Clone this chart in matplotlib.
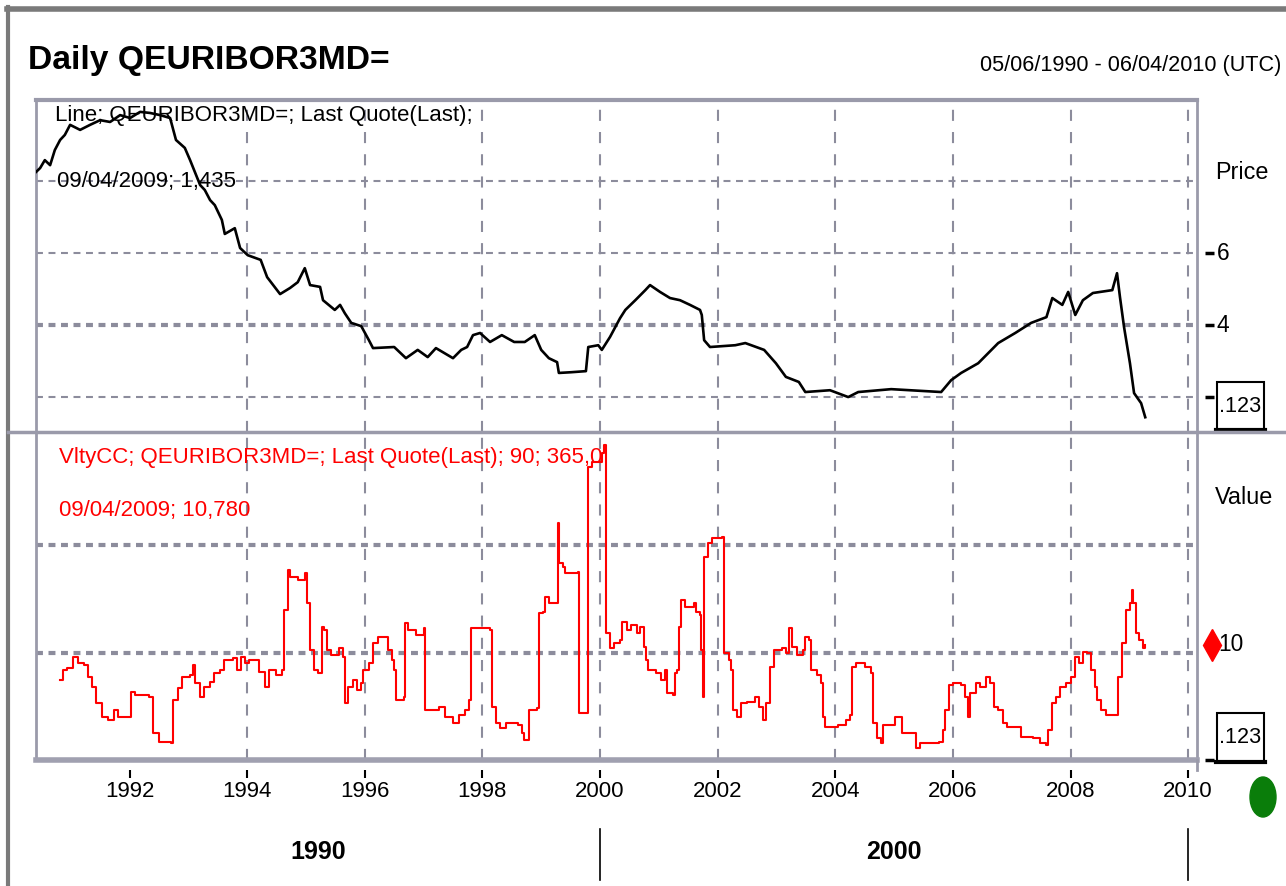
import matplotlib
matplotlib.use('Agg')
import matplotlib.pyplot as plt
from matplotlib import font_manager
from matplotlib.patches import Rectangle, Ellipse
from matplotlib.lines import Line2D

# --- datos ---
price_years = [1990.41, 1990.48, 1990.56, 1990.65, 1990.73, 1990.82, 1990.90, 1990.99, 1991.16, 1991.33,
               1991.50, 1991.67, 1991.84, 1992.01, 1992.18, 1992.35, 1992.52, 1992.69, 1992.79, 1992.94,
               1993.03, 1993.20, 1993.28, 1993.37, 1993.45, 1993.57, 1993.62, 1993.79, 1993.88, 1994.01,
               1994.23, 1994.34, 1994.56, 1994.73, 1994.86, 1994.98, 1995.07, 1995.24, 1995.29, 1995.49,
               1995.58, 1995.66, 1995.77, 1995.94, 1996.07, 1996.14, 1996.50, 1996.70, 1996.90, 1997.07,
               1997.21, 1997.50, 1997.64, 1997.74, 1997.84, 1997.96, 1998.13, 1998.33, 1998.54, 1998.72,
               1998.89, 1999.00, 1999.13, 1999.27, 1999.30, 1999.51, 1999.76, 1999.80, 1999.97, 2000.03,
               2000.17, 2000.34, 2000.43, 2000.60, 2000.77, 2000.85, 2001.02, 2001.19, 2001.36, 2001.53,
               2001.70, 2001.73, 2001.77, 2001.87, 2002.30, 2002.47, 2002.79, 2002.99, 2003.16, 2003.38,
               2003.49, 2003.91, 2004.22, 2004.39, 2004.95, 2005.80, 2005.97, 2006.14, 2006.43, 2006.77,
               2007.06, 2007.33, 2007.59, 2007.69, 2007.86, 2007.96, 2008.08, 2008.21, 2008.38, 2008.71,
               2008.79, 2008.84, 2008.91, 2009.01, 2009.08, 2009.20, 2009.27]
price_values = [8.25, 8.36, 8.58, 8.44, 8.86, 9.14, 9.28, 9.56, 9.42, 9.56,
                9.69, 9.64, 9.83, 9.75, 9.92, 9.89, 9.83, 9.75, 9.14, 8.92,
                8.58, 7.89, 7.75, 7.47, 7.33, 6.92, 6.53, 6.69, 6.14, 5.94,
                5.81, 5.33, 4.86, 5.03, 5.19, 5.58, 5.11, 5.06, 4.69, 4.42,
                4.56, 4.33, 4.06, 3.97, 3.58, 3.36, 3.39, 3.08, 3.31, 3.11,
                3.36, 3.08, 3.31, 3.39, 3.72, 3.78, 3.53, 3.72, 3.53, 3.53,
                3.72, 3.31, 3.08, 2.97, 2.67, 2.69, 2.72, 3.39, 3.44, 3.31,
                3.67, 4.19, 4.42, 4.69, 4.97, 5.11, 4.92, 4.75, 4.69, 4.56,
                4.42, 4.28, 3.58, 3.39, 3.44, 3.50, 3.31, 2.94, 2.56, 2.42,
                2.14, 2.19, 2.00, 2.14, 2.22, 2.14, 2.47, 2.67, 2.94, 3.50,
                3.78, 4.06, 4.22, 4.75, 4.56, 4.92, 4.28, 4.69, 4.89, 4.97,
                5.44, 4.78, 3.94, 2.94, 2.11, 1.83, 1.44]

vol_years = [1990.82, 1990.87, 1990.94, 1991.04, 1991.12, 1991.22, 1991.29, 1991.36, 1991.43, 1991.53,
             1991.63, 1991.73, 1991.80, 1991.99, 1992.02, 1992.09, 1992.33, 1992.40, 1992.50, 1992.70,
             1992.74, 1992.82, 1992.89, 1993.03, 1993.08, 1993.11, 1993.20, 1993.27, 1993.37, 1993.44,
             1993.54, 1993.61, 1993.76, 1993.83, 1993.89, 1993.96, 1994.03, 1994.17, 1994.20, 1994.30,
             1994.37, 1994.49, 1994.59, 1994.63, 1994.69, 1994.73, 1994.86, 1994.98, 1995.02, 1995.07,
             1995.14, 1995.20, 1995.27, 1995.31, 1995.36, 1995.43, 1995.53, 1995.56, 1995.63, 1995.66,
             1995.71, 1995.80, 1995.87, 1995.94, 1995.97, 1996.07, 1996.14, 1996.22, 1996.33, 1996.39,
             1996.46, 1996.50, 1996.53, 1996.67, 1996.68, 1996.73, 1996.87, 1997.01, 1997.02, 1997.26,
             1997.36, 1997.50, 1997.60, 1997.70, 1997.77, 1997.81, 1997.99, 1998.13, 1998.16, 1998.23,
             1998.30, 1998.40, 1998.61, 1998.67, 1998.71, 1998.79, 1998.93, 1998.96, 1999.03, 1999.06,
             1999.13, 1999.27, 1999.29, 1999.30, 1999.37, 1999.40, 1999.63, 1999.64, 1999.76, 1999.80,
             1999.86, 2000.03, 2000.07, 2000.10, 2000.17, 2000.24, 2000.34, 2000.37, 2000.46, 2000.53,
             2000.63, 2000.68, 2000.75, 2000.78, 2000.82, 2000.95, 2001.04, 2001.11, 2001.14, 2001.24,
             2001.28, 2001.31, 2001.34, 2001.38, 2001.45, 2001.60, 2001.63, 2001.70, 2001.72, 2001.75,
             2001.77, 2001.84, 2001.90, 2002.07, 2002.11, 2002.19, 2002.23, 2002.26, 2002.33, 2002.40,
             2002.50, 2002.64, 2002.70, 2002.77, 2002.82, 2002.89, 2002.96, 2003.10, 2003.16, 2003.21,
             2003.27, 2003.35, 2003.45, 2003.49, 2003.55, 2003.59, 2003.69, 2003.76, 2003.79, 2003.83,
             2004.05, 2004.18, 2004.25, 2004.29, 2004.35, 2004.51, 2004.61, 2004.64, 2004.71, 2004.78,
             2004.81, 2004.98, 2005.02, 2005.10, 2005.14, 2005.34, 2005.37, 2005.44, 2005.77, 2005.83,
             2005.87, 2005.94, 2006.00, 2006.14, 2006.21, 2006.26, 2006.29, 2006.39, 2006.46, 2006.56,
             2006.63, 2006.70, 2006.77, 2006.85, 2006.92, 2007.09, 2007.16, 2007.36, 2007.48, 2007.59,
             2007.62, 2007.69, 2007.76, 2007.82, 2007.93, 2008.01, 2008.08, 2008.15, 2008.21, 2008.28,
             2008.35, 2008.42, 2008.45, 2008.52, 2008.61, 2008.78, 2008.81, 2008.88, 2008.95, 2009.01,
             2009.05, 2009.07, 2009.12, 2009.17, 2009.24, 2009.27]
vol_values = [7.50, 8.43, 8.61, 9.63, 9.07, 8.89, 7.78, 6.85, 5.37, 4.07,
              3.80, 4.72, 4.07, 4.07, 6.39, 6.11, 5.93, 2.59, 1.76, 1.67,
              5.65, 6.76, 7.78, 7.96, 8.89, 7.22, 5.93, 6.85, 7.31, 8.15,
              8.43, 9.35, 9.54, 8.43, 9.63, 9.07, 9.35, 9.35, 8.24, 6.85,
              8.43, 7.96, 8.43, 13.98, 17.69, 17.04, 16.76, 17.41, 14.63, 10.28,
              8.43, 8.15, 12.41, 12.13, 10.28, 9.81, 9.81, 10.46, 9.63, 5.37,
              6.85, 7.50, 6.57, 7.22, 8.43, 9.07, 10.93, 11.48, 11.48, 10.28,
              9.35, 8.43, 5.65, 5.93, 12.78, 12.13, 11.67, 12.31, 4.72, 5.00,
              4.07, 3.52, 4.26, 4.72, 5.65, 12.31, 12.31, 12.13, 5.00, 3.52,
              3.06, 3.52, 3.33, 2.59, 1.94, 4.72, 4.91, 13.70, 13.80, 15.19,
              14.63, 14.63, 22.04, 18.33, 17.96, 17.41, 17.50, 4.44, 4.44, 27.22,
              27.69, 28.52, 29.26, 11.85, 10.46, 10.93, 11.20, 12.87, 12.13, 12.59,
              11.85, 12.41, 10.56, 9.35, 8.43, 8.15, 7.50, 8.43, 6.30, 6.11,
              8.15, 8.43, 12.41, 14.91, 14.26, 14.63, 13.80, 13.52, 10.28, 5.93,
              18.89, 20.19, 20.65, 20.74, 10.00, 9.35, 8.43, 4.72, 4.07, 5.37,
              5.46, 5.93, 5.00, 3.80, 5.37, 8.70, 10.28, 10.46, 10.00, 12.31,
              10.56, 9.81, 10.28, 11.48, 11.20, 8.43, 7.96, 7.22, 4.07, 3.15,
              3.33, 3.80, 4.26, 8.70, 9.07, 8.70, 8.15, 3.52, 2.13, 1.67,
              3.33, 3.33, 4.07, 4.07, 2.59, 2.59, 1.20, 1.67, 1.76, 2.87,
              4.72, 7.04, 7.22, 7.04, 5.93, 4.07, 6.30, 7.22, 6.85, 7.78,
              7.22, 5.00, 4.72, 3.52, 3.15, 3.15, 2.22, 2.13, 1.67, 1.48,
              2.87, 5.37, 5.93, 6.85, 7.22, 7.78, 9.63, 9.07, 10.09, 10.00,
              8.43, 6.85, 5.65, 4.72, 4.26, 4.26, 7.78, 10.93, 13.98, 14.63,
              15.83, 14.63, 11.85, 11.20, 10.46, 10.78]

year_ticks = [1992, 1994, 1996, 1998, 2000, 2002, 2004, 2006, 2008, 2010]
grid_years = [1994, 1996, 1998, 2000, 2002, 2004, 2006, 2008, 2010]
price_grid = [2, 4, 6, 8]
price_ticks = [6, 4, 2]
price_labels = ['6', '4', '.123']
vol_grid = [10, 20]
decades = [1990, 2000, 2010]

title = 'Daily QEURIBOR3MD='
date_range = '05/06/1990 - 06/04/2010 (UTC)'
price_legend = ['Line; QEURIBOR3MD=; Last Quote(Last);', '09/04/2009; 1,435']
vol_legend = ['VltyCC; QEURIBOR3MD=; Last Quote(Last); 90; 365,0', '09/04/2009; 10,780']

# --- fuentes ---
nombres = {f.name for f in font_manager.fontManager.ttflist}
if 'Liberation Sans Narrow' in nombres:
    fam, k = 'Liberation Sans Narrow', 1.0
elif 'Liberation Sans' in nombres:
    fam, k = 'Liberation Sans', 0.82
else:
    fam, k = 'DejaVu Sans', 0.72
plt.rcParams['font.family'] = [fam, 'DejaVu Sans']
plt.rcParams['lines.scale_dashes'] = False

W, H = 1286, 886
def fx(px):
    return px / W
def fy(py):
    return 1 - py / H

GRID = '#8c8c9c'
FRAME = '#9a9aaa'
XMIN, XMAX = 1990.41, 2010.15

fig = plt.figure(figsize=(W / 100, H / 100), dpi=100, facecolor='white')

ax1 = fig.add_axes([fx(36), fy(432), fx(1197) - fx(36), fy(100) - fy(432)])
ax2 = fig.add_axes([fx(36), fy(760), fx(1197) - fx(36), fy(432) - fy(760)])

for ax in (ax1, ax2):
    ax.set_xlim(XMIN, XMAX)
    ax.set_yticks([])
    for g in grid_years:
        ax.axvline(g, color=GRID, lw=1.5, ls=(0, (8, 8)), zorder=1)
    ax.spines['left'].set_color(FRAME)
    ax.spines['left'].set_linewidth(2)
    ax.spines['right'].set_color(FRAME)
    ax.spines['right'].set_linewidth(2)

ax1.set_ylim(1.03, 10.25)
ax2.set_ylim(0.1, 30.5)

for v in price_grid:
    ax1.axhline(v, color=GRID, lw=3 if v == 4 else 1.5, ls=(0, (5, 4)), zorder=1)
for v in vol_grid:
    ax2.axhline(v, color=GRID, lw=3, ls=(0, (5, 4)), zorder=1)

ax1.spines['top'].set_color(FRAME)
ax1.spines['top'].set_linewidth(3)
ax1.spines['bottom'].set_visible(False)
ax1.set_xticks([])
ax2.spines['top'].set_visible(False)
ax2.spines['bottom'].set_color('#a0a0b0')
ax2.spines['bottom'].set_linewidth(4)

# series
ax1.plot(price_years, price_values, color='black', lw=1.9, zorder=3)
ax2.plot(vol_years, vol_values, color='#ff0000', lw=1.5, drawstyle='steps-post', zorder=3)

# leyendas dentro de los paneles
fs_leg = 19.5 * k
ax1.text(0.0164, 0.952, price_legend[0], transform=ax1.transAxes, fontsize=fs_leg,
         va='center', ha='left', color='black', zorder=4)
ax1.text(0.0180, 0.756, price_legend[1], transform=ax1.transAxes, fontsize=fs_leg,
         va='center', ha='left', color='black', zorder=4)
ax2.text(0.0198, 0.921, vol_legend[0], transform=ax2.transAxes, fontsize=fs_leg,
         va='center', ha='left', color='#ff0000', zorder=4)
ax2.text(0.0198, 0.762, vol_legend[1], transform=ax2.transAxes, fontsize=fs_leg,
         va='center', ha='left', color='#ff0000', zorder=4)

# eje derecho superior
ax1.text(1.0155, 0.783, 'Price', transform=ax1.transAxes, fontsize=20.5 * k, va='center', ha='left')
for v, lab in zip(price_ticks, price_labels):
    ax1.plot([1.007, 1.0146], [v, v], transform=ax1.get_yaxis_transform(), color='black',
             lw=2.5, clip_on=False, solid_capstyle='butt')
    if lab != '.123':
        ax1.text(1.0172, v, lab, transform=ax1.get_yaxis_transform(), fontsize=20 * k,
                 va='center', ha='left')

# eje derecho inferior
ax2.text(1.0155, 0.799, 'Value', transform=ax2.transAxes, fontsize=20.5 * k, va='center', ha='left')
ax2.plot([1.0129], [vol_values[-1]], transform=ax2.get_yaxis_transform(), marker='d',
         markersize=16, color='#ff0000', clip_on=False)
ax2.text(1.0185, vol_values[-1], '10', transform=ax2.get_yaxis_transform(), fontsize=20 * k,
         va='center', ha='left')
ax2.plot([1.007, 1.0146], [0.1, 0.1], transform=ax2.get_yaxis_transform(), color='black',
         lw=2.5, clip_on=False, solid_capstyle='butt')

# cajas ".123"
for top, bot in ((382, 430), (713, 762)):
    fig.add_artist(Rectangle((fx(1217), fy(bot)), fx(1264) - fx(1217), fy(top) - fy(bot),
                             transform=fig.transFigure, fill=False, edgecolor='black', lw=1.5))
    fig.add_artist(Line2D([fx(1216), fx(1265)], [fy(bot), fy(bot)], color='black', lw=3))
    fig.text(fx(1240), fy((top + bot) / 2), '.123', fontsize=19 * k, ha='center', va='center')

# eje x
ax2.set_xticks(year_ticks)
ax2.set_xticklabels([str(y) for y in year_ticks], fontsize=19.5 * k)
ax2.tick_params(axis='x', length=0, pad=15)
ax2.vlines(year_ticks, -0.0549, -0.0305, transform=ax2.get_xaxis_transform(),
           color='black', lw=1.5, clip_on=False)

for i in range(len(decades) - 1):
    a = max(decades[i], XMIN)
    b = min(decades[i + 1], XMAX)
    ax2.text((a + b) / 2, -0.280, str(decades[i]), transform=ax2.get_xaxis_transform(),
             fontsize=22 * k, fontweight='bold', ha='center', va='center')
for d in decades[1:]:
    ax2.plot([d, d], [-0.21, -0.366], transform=ax2.get_xaxis_transform(), color='black',
             lw=1.2, clip_on=False)

# marco y separadores
fig.add_artist(Line2D([fx(7), 1], [fy(9), fy(9)], color='#7a7a7a', lw=4))
fig.add_artist(Line2D([fx(8), fx(8)], [fy(7), 0], color='#7a7a7a', lw=3))
fig.add_artist(Line2D([fx(8), 1], [fy(432), fy(432)], color=FRAME, lw=2.5))
fig.add_artist(Line2D([fx(1197), fx(1197)], [fy(760), fy(770)], color=FRAME, lw=2))

fig.add_artist(Ellipse((fx(1263), fy(797)), 26 / W, 40 / H, transform=fig.transFigure,
                       color='#0a7d0a'))

fig.text(fx(28), fy(60), title, fontsize=29.5 * k, fontweight='bold', ha='left', va='center')
fig.text(fx(1281), fy(65), date_range, fontsize=19 * k, ha='right', va='center')

fig.savefig('out.png', dpi=100, facecolor='white')
